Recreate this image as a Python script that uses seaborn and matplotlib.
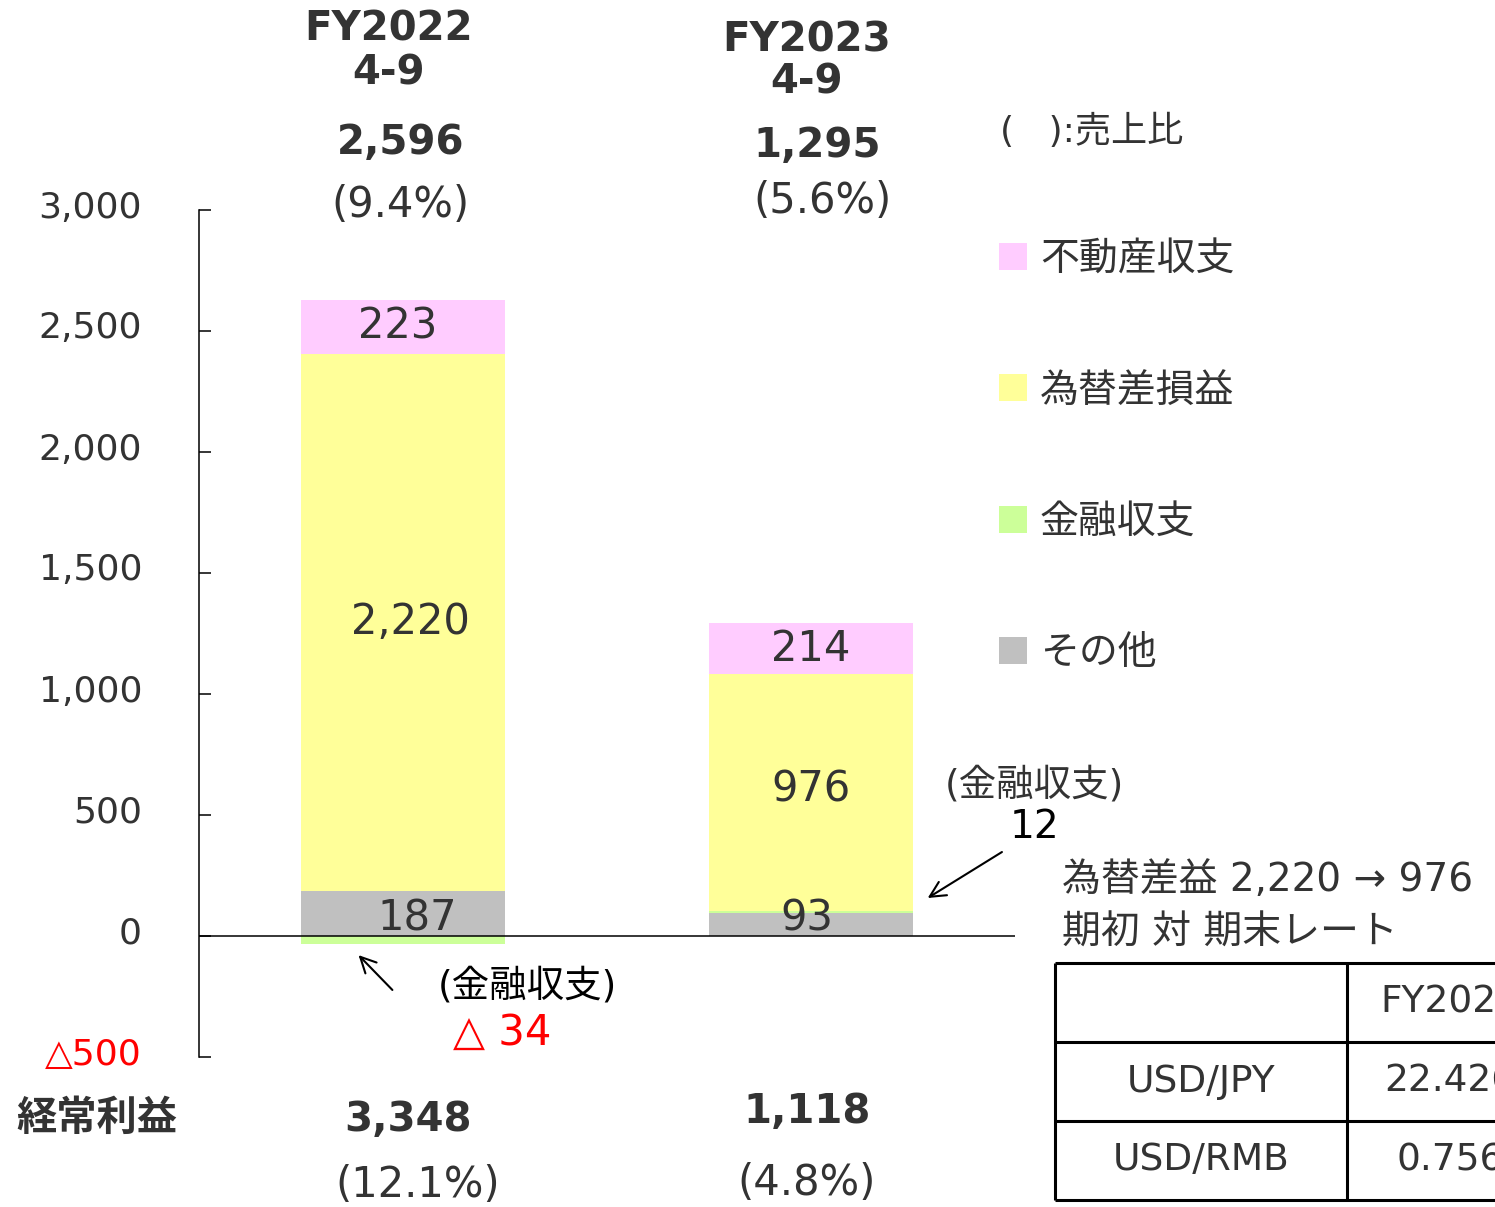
import numpy as np
import matplotlib.pyplot as plt
from matplotlib.patches import Patch
from matplotlib.transforms import ScaledTranslation
import seaborn as sns

# --- data ---
periods = ["FY2022", "FY2023"]
period_sub = ["4-9", "4-9"]
other = np.array([187, 93])          # その他
finance = np.array([-34, 12])        # 金融収支
fx = np.array([2220, 976])           # 為替差損益
real_estate = np.array([223, 214])   # 不動産収支
non_op_total = [2596, 1295]
non_op_ratio = ["(9.4%)", "(5.6%)"]
ordinary_profit = [3348, 1118]
ordinary_ratio = ["(12.1%)", "(4.8%)"]

series_names = ["不動産収支", "為替差損益", "金融収支", "その他"]
series_colors = ["#FFCCFF", "#FFFF99", "#CCFF99", "#C0C0C0"]

yticks = [-500, 0, 500, 1000, 1500, 2000, 2500, 3000]

table_rows = ["USD/JPY", "USD/RMB"]
table_cols = ["FY2022"]
table_vals = [["22.426"], ["0.756"]]

sns.set_style("ticks")
plt.rcParams['font.family'] = ['DejaVu Sans', 'Noto Sans CJK JP']

TXT = "#333333"
W, H = 1495, 1207

fig = plt.figure(figsize=(W / 100, H / 100), dpi=100)
ax = fig.add_axes([199 / W, 150 / H, 816 / W, 847 / H])

# stacked bars drawn as overlapping cumulative bars (negative finance goes below zero)
pos_fin = np.clip(finance, 0, None)
fin_bar = np.where(finance < 0, finance, other + finance)
fx_top = other + pos_fin + fx
re_top = fx_top + real_estate
layers = [re_top, fx_top, fin_bar, other]

for vals, color in zip(layers, series_colors):
    sns.barplot(x=periods, y=vals, color=color, saturation=1, width=0.5,
                linewidth=0, errorbar=None, ax=ax)

ax.set_xlim(-0.5, 1.5)
ax.set_ylim(-500, 3000)
ax.axhline(0, color="black", lw=1.1)

labels = [f"{v:,}".replace("-", "△") for v in yticks]
ax.set_yticks(yticks, labels=labels)
ax.tick_params(axis="y", direction="in", length=8.6, width=1.1, pad=41,
               labelsize=26, labelcolor=TXT, color="black")
ax.tick_params(axis="x", bottom=False, labelbottom=False)
ax.set_xlabel("")
ax.set_ylabel("")
sns.despine(ax=ax, top=True, right=True, bottom=True)
ax.spines["left"].set_color("black")
ax.spines["left"].set_linewidth(1.1)
# labels sit a little above their ticks in the original
lift = ScaledTranslation(0, 6 / 100, fig.dpi_scale_trans)
for lab in ax.get_yticklabels():
    lab.set_transform(lab.get_transform() + lift)
ax.get_yticklabels()[0].set_color("red")

# segment labels
re_mid = fx_top + real_estate / 2
fx_mid = other + pos_fin + fx / 2
dx = [[-0.013, 0.018, 0.035], [0.0, 0.0, -0.01]]
for i in range(2):
    ax.text(i + dx[i][0], re_mid[i], f"{real_estate[i]:,}", ha="center", va="center",
            fontsize=30, color=TXT)
    ax.text(i + dx[i][1], fx_mid[i] + (0 if i == 0 else 14), f"{fx[i]:,}", ha="center",
            va="center", fontsize=30, color=TXT)
    ax.text(i + dx[i][2], 72, f"{other[i]:,}", ha="center", va="center",
            fontsize=30, color=TXT)

# headers above bars
head_x = [-0.035, 0.99]
head_y = [[3744, 3566], [3702, 3525]]
tot_x = [-0.006, 1.015]
tot_y = [3277, 3264]
rat_x = [-0.006, 1.029]
rat_y = [3021, 3037]
for i in range(2):
    ax.text(head_x[i], head_y[i][0], periods[i], ha="center", va="center",
            fontsize=29, fontweight="bold", color=TXT, clip_on=False)
    ax.text(head_x[i], head_y[i][1], period_sub[i], ha="center", va="center",
            fontsize=29, fontweight="bold", color=TXT, clip_on=False)
    ax.text(tot_x[i], tot_y[i], f"{non_op_total[i]:,}", ha="center", va="center",
            fontsize=29, fontweight="bold", color=TXT, clip_on=False)
    ax.text(rat_x[i], rat_y[i], non_op_ratio[i], ha="center", va="center",
            fontsize=30, color=TXT, clip_on=False)

# ordinary profit below
ax.text(-0.75, -756, "経常利益", ha="center", va="center", fontsize=29,
        fontweight="bold", color=TXT, clip_on=False)
op_x = [0.013, 0.99]
op_y = [-760, -727]
opr_x = [0.035, 0.988]
opr_y = [-1029, -1021]
for i in range(2):
    ax.text(op_x[i], op_y[i], f"{ordinary_profit[i]:,}", ha="center", va="center",
            fontsize=29, fontweight="bold", color=TXT, clip_on=False)
    ax.text(opr_x[i], opr_y[i], ordinary_ratio[i], ha="center", va="center",
            fontsize=30, color=TXT, clip_on=False)

# finance callouts
ax.text(0.305, -207, "(金融収支)", ha="center", va="center", fontsize=27,
        color="black", clip_on=False)
ax.text(0.244, -401, f"△ {abs(finance[0])}", ha="center", va="center", fontsize=30,
        color="red", clip_on=False)
ax.annotate("", xy=(-0.109, -79), xytext=(-0.026, -223),
            arrowprops=dict(arrowstyle="->", color="black", lw=1.5,
                            mutation_scale=28, shrinkA=0, shrinkB=0),
            annotation_clip=False)
ax.text(1.548, 624, "(金融収支)", ha="center", va="center", fontsize=27,
        color=TXT, clip_on=False)
ax.text(1.548, 450, f"{finance[1]}", ha="center", va="center", fontsize=28,
        color="black", clip_on=False)
ax.annotate("", xy=(1.286, 157), xytext=(1.468, 347),
            arrowprops=dict(arrowstyle="->", color="black", lw=1.5,
                            mutation_scale=28, shrinkA=0, shrinkB=0),
            annotation_clip=False)

# legend
handles = [Patch(facecolor=c, edgecolor="none") for c in series_colors]
fig.legend(handles, series_names, loc="upper left", bbox_to_anchor=(999 / W, 0.801),
           frameon=False, fontsize=28, labelcolor=TXT, handlelength=0.72,
           handleheight=0.69, handletextpad=0.33, labelspacing=2.40,
           borderpad=0, borderaxespad=0)
fig.text(1000 / W, 1 - 131 / H, "(   ):売上比", ha="left", va="center",
         fontsize=26, color=TXT)

# fx note
fig.text(1062 / W, 1 - 880 / H, f"為替差益 {fx[0]:,} → {fx[1]:,}", ha="left",
         va="center", fontsize=28, color=TXT)
fig.text(1062 / W, 1 - 933 / H, "期初 対 期末レート", ha="left", va="center",
         fontsize=28, color=TXT)

# rate table (runs off the right edge, as in the source slide)
col_w = [292, 206]
tx = fig.add_axes([1055 / W, 7 / H, sum(col_w) / W, 237 / H])
tx.set_xlim(0, sum(col_w))
tx.set_ylim(3, 0)
tx.axis("off")
edges = np.concatenate([[0], np.cumsum(col_w)])
tx.hlines([0, 1, 2, 3], 0, edges[-1], color="black", lw=2.2, clip_on=False)
tx.vlines(edges, 0, 3, color="black", lw=2.2, clip_on=False)
for j, name in enumerate(table_cols):
    tx.text((edges[j + 1] + edges[j + 2]) / 2, 0.5, name, ha="center", va="center",
            fontsize=27, color=TXT)
for r, name in enumerate(table_rows):
    tx.text(col_w[0] / 2, r + 1.5, name, ha="center", va="center", fontsize=27,
            color=TXT)
    for j, v in enumerate(table_vals[r]):
        tx.text((edges[j + 1] + edges[j + 2]) / 2, r + 1.5, v, ha="center",
                va="center", fontsize=27, color=TXT)

fig.savefig("out.png", dpi=100)
